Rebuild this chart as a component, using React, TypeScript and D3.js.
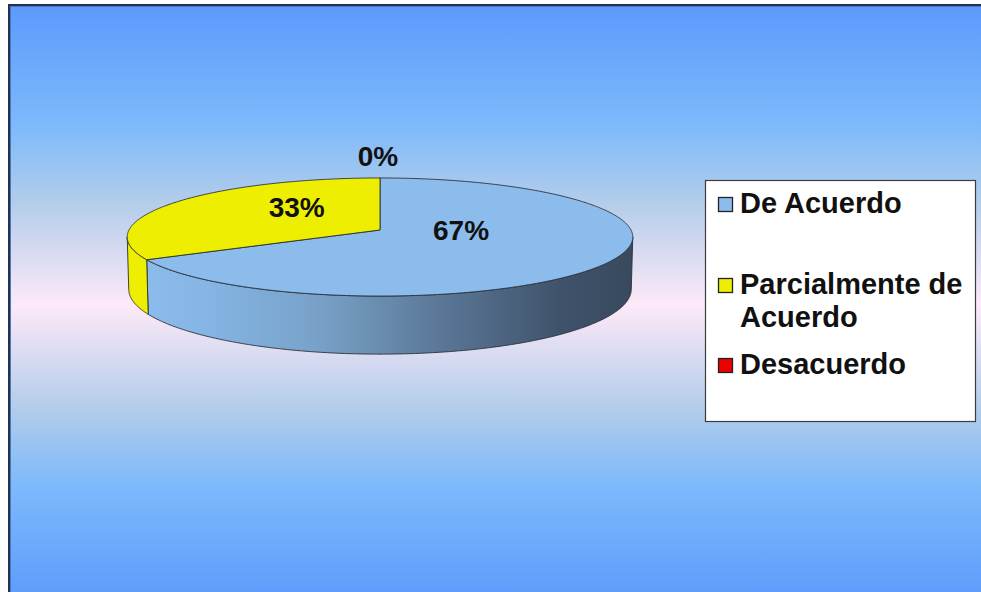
import React from "react";
import * as d3 from "d3";

// Survey answers (percent of respondents)
const categories = ["De Acuerdo", "Parcialmente de Acuerdo", "Desacuerdo"];
const legendLines = [["De Acuerdo"], ["Parcialmente de", "Acuerdo"], ["Desacuerdo"]];
const values = [67, 33, 0];
const sliceColors = ["#8cbcec", "#eeee00", "#ee0000"];

const W = 981;
const H = 592;

// 3D disc geometry (perspective view of a tilted cylinder)
const CX = 380;
const CY = 230;
const R = 251;
const SIN_T = 0.2319;
const COS_T = Math.sqrt(1 - SIN_T * SIN_T);
const CAM = 2058;
const DEPTH = 53.4;

function project(theta: number, r: number, height: number): [number, number] {
  const u = r * Math.sin(theta);
  const z = -r * Math.cos(theta);
  const v = z * SIN_T - height * COS_T;
  const w = z * COS_T + height * SIN_T;
  const f = CAM / (CAM - w);
  return [CX + u * f, CY + v * f];
}

function samples(a: number, b: number, step = Math.PI / 360): number[] {
  const out: number[] = [];
  const n = Math.max(1, Math.ceil(Math.abs(b - a) / step));
  for (let i = 0; i <= n; i++) out.push(a + ((b - a) * i) / n);
  return out;
}

// silhouette of the rim: angles where the projected rim reaches its extreme x
function silhouette(): [number, number] {
  let minX = Infinity, maxX = -Infinity, tMin = 0, tMax = 0;
  for (const t of samples(0, 2 * Math.PI, Math.PI / 1800)) {
    const [x] = project(t, R, 0);
    if (x < minX) { minX = x; tMin = t; }
    if (x > maxX) { maxX = x; tMax = t; }
  }
  return [tMax, tMin];
}

const line = d3.line<[number, number]>().x((d) => d[0]).y((d) => d[1]);

export default function App() {
  const pie = d3
    .pie<number>()
    .sort(null)
    .startAngle(0)
    .endAngle(2 * Math.PI)(values);

  const total = d3.sum(values);
  const [wallStart, wallEnd] = silhouette();

  const tops = pie.map((s, i) => {
    if (s.endAngle - s.startAngle <= 0) return null;
    const pts: [number, number][] = [project(0, 0, 0)];
    samples(s.startAngle, s.endAngle).forEach((t) => pts.push(project(t, R, 0)));
    return { i, d: line(pts) + "Z" };
  });

  const walls = pie.map((s, i) => {
    const a = Math.max(s.startAngle, wallStart);
    const b = Math.min(s.endAngle, wallEnd);
    if (b <= a) return null;
    const ts = samples(a, b);
    const pts: [number, number][] = [
      ...ts.map((t) => project(t, R, 0)),
      ...ts.slice().reverse().map((t) => project(t, R, -DEPTH)),
    ];
    return { i, d: line(pts) + "Z" };
  });

  const labels = pie.map((s, i) => {
    const pct = Math.round((s.data / total) * 100) + "%";
    const mid = (s.startAngle + s.endAngle) / 2;
    if (s.endAngle - s.startAngle <= 0) {
      const [x, y] = project(mid, R, 0);
      return { i, pct, x: x - 2, y: y - 12 };
    }
    const [x, y] = project(mid, R * 0.38, 0);
    return { i, pct, x: x - 3, y: y - 2 };
  });

  const font = "'Liberation Sans', Arial, Helvetica, sans-serif";

  // legend layout
  const legendX = 705.5;
  const legendY = 180.5;
  const legendW = 270;
  const legendH = 241;
  const rowBaselines = [213, 294, 374];
  const lineGap = 33;

  return (
    <svg
      width={W}
      height={H}
      style={{ position: "absolute", left: 0, top: 0, display: "block" }}
    >
      <defs>
        <linearGradient id="bg" x1="0" y1="0" x2="0" y2="1">
          <stop offset="0" stopColor="#5b9afd" />
          <stop offset="0.2" stopColor="#7db9fb" />
          <stop offset="0.33" stopColor="#b3cdea" />
          <stop offset="0.5" stopColor="#fde9f8" />
          <stop offset="0.67" stopColor="#b3cdea" />
          <stop offset="0.8" stopColor="#7db9fb" />
          <stop offset="1" stopColor="#5b9afd" />
        </linearGradient>
        <linearGradient id="wall" gradientUnits="userSpaceOnUse" x1={150} y1={0} x2={630} y2={0}>
          <stop offset="0" stopColor="#8bbbeb" />
          <stop offset="0.12" stopColor="#84b5e5" />
          <stop offset="0.36" stopColor="#77a0c6" />
          <stop offset="0.6" stopColor="#5b7898" />
          <stop offset="0.86" stopColor="#3f526a" />
          <stop offset="1" stopColor="#394a5e" />
        </linearGradient>
      </defs>

      <rect x={8} y={4} width={W + 10} height={H + 10} fill="url(#bg)" />
      <rect x={9} y={5} width={W + 10} height={H + 10} fill="none" stroke="#22324f" strokeWidth={2} />
      <rect x={10.5} y={6.5} width={W + 10} height={H + 10} fill="none" stroke="#4a78c4" strokeWidth={1} />

      {walls.map((w) =>
        w ? (
          <path
            key={"w" + w.i}
            d={w.d}
            fill={w.i === 0 ? "url(#wall)" : sliceColors[w.i]}
            stroke="#2a2f38"
            strokeWidth={0.9}
            strokeLinejoin="round"
          />
        ) : null
      )}
      {tops.map((t) =>
        t ? (
          <path
            key={"t" + t.i}
            d={t.d}
            fill={sliceColors[t.i]}
            stroke="#2a2f38"
            strokeWidth={0.9}
            strokeLinejoin="round"
          />
        ) : null
      )}

      {labels.map((l) => (
        <text
          key={"l" + l.i}
          x={l.x}
          y={l.y}
          textAnchor="middle"
          fontFamily={font}
          fontWeight="bold"
          fontSize={28}
          fill="#111"
        >
          {l.pct}
        </text>
      ))}

      <rect x={legendX} y={legendY} width={legendW} height={legendH} fill="#fff" stroke="#3c3c3c" strokeWidth={1.2} />
      {categories.map((c, i) => (
        <g key={c}>
          <rect
            x={718.5}
            y={rowBaselines[i] - 15.5}
            width={14}
            height={14}
            fill={sliceColors[i]}
            stroke="#222"
            strokeWidth={1.3}
          />
          <text fontFamily={font} fontWeight="bold" fontSize={29} fill="#111">
            {legendLines[i].map((ln, k) => (
              <tspan key={k} x={740} y={rowBaselines[i] + k * lineGap}>
                {ln}
              </tspan>
            ))}
          </text>
        </g>
      ))}
    </svg>
  );
}
